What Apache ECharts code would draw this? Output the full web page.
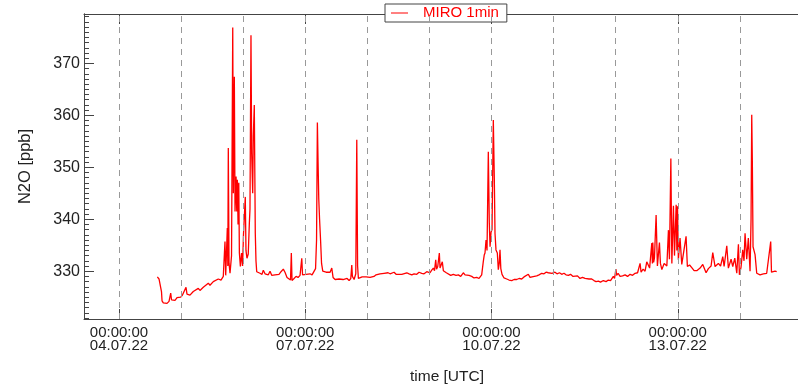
<!DOCTYPE html>
<html>
<head>
<meta charset="utf-8">
<script src="https://cdn.jsdelivr.net/npm/echarts@6/dist/echarts.min.js"></script>
<style>
  html, body { margin: 0; padding: 0; background: #fff; }
  #chart { width: 798px; height: 388px; }
</style>
</head>
<body>
<div id="chart"></div>
<script>
// time stamps (UTC, dd.mm hh:mm, year 2022)
var times = [
  '04.07 14:49', '04.07 15:05', '04.07 15:28', '04.07 16:03', '04.07 16:26', '04.07 16:38', '04.07 17:08', '04.07 17:47',
  '04.07 18:34', '04.07 19:20', '04.07 19:59', '04.07 20:18', '04.07 21:00', '04.07 21:39', '04.07 22:26', '04.07 23:12',
  '04.07 23:52', '05.07 00:32', '05.07 01:07', '05.07 01:54', '05.07 02:17', '05.07 03:26', '05.07 04:43', '05.07 05:22',
  '05.07 06:39', '05.07 07:18', '05.07 08:35', '05.07 09:14', '05.07 10:31', '05.07 11:10', '05.07 12:27', '05.07 13:07',
  '05.07 14:23', '05.07 15:26', '05.07 16:19', '05.07 16:58', '05.07 17:15', '05.07 17:52', '05.07 18:04', '05.07 18:15',
  '05.07 18:32', '05.07 18:55', '05.07 19:30', '05.07 19:58', '05.07 20:12', '05.07 20:35', '05.07 20:51', '05.07 21:15',
  '05.07 21:31', '05.07 21:45', '05.07 22:01', '05.07 22:18', '05.07 22:32', '05.07 22:55', '05.07 23:23', '05.07 23:46',
  '06.07 00:07', '06.07 00:49', '06.07 01:05', '06.07 01:28', '06.07 01:58', '06.07 02:22', '06.07 02:38', '06.07 03:01',
  '06.07 03:17', '06.07 03:41', '06.07 03:55', '06.07 04:18', '06.07 04:41', '06.07 04:57', '06.07 05:14', '06.07 05:44',
  '06.07 06:30', '06.07 07:17', '06.07 07:47', '06.07 08:27', '06.07 09:06', '06.07 09:43', '06.07 10:23', '06.07 11:02',
  '06.07 11:39', '06.07 12:19', '06.07 13:05', '06.07 13:51', '06.07 14:38', '06.07 15:31', '06.07 16:10', '06.07 16:57',
  '06.07 17:43', '06.07 18:18', '06.07 18:37', '06.07 18:53', '06.07 19:40', '06.07 20:26', '06.07 21:13', '06.07 21:59',
  '06.07 22:39', '06.07 22:57', '06.07 23:32', '07.07 00:19', '07.07 01:05', '07.07 01:51', '07.07 02:38', '07.07 03:24',
  '07.07 03:59', '07.07 04:22', '07.07 04:41', '07.07 04:57', '07.07 05:13', '07.07 05:32', '07.07 05:55', '07.07 06:18',
  '07.07 06:46', '07.07 07:16', '07.07 08:03', '07.07 08:49', '07.07 09:36', '07.07 10:15', '07.07 10:45', '07.07 11:32',
  '07.07 12:18', '07.07 13:05', '07.07 13:51', '07.07 14:38', '07.07 15:24', '07.07 16:10', '07.07 16:57', '07.07 17:36',
  '07.07 17:59', '07.07 18:13', '07.07 18:53', '07.07 19:32', '07.07 19:55', '07.07 20:14', '07.07 20:33', '07.07 21:12',
  '07.07 21:59', '07.07 22:45', '07.07 23:32', '08.07 00:16', '08.07 01:03', '08.07 01:49', '08.07 02:35', '08.07 03:22',
  '08.07 04:08', '08.07 04:55', '08.07 05:41', '08.07 06:28', '08.07 07:14', '08.07 08:00', '08.07 08:47', '08.07 09:33',
  '08.07 10:20', '08.07 11:06', '08.07 11:52', '08.07 13:19', '08.07 13:49', '08.07 15:15', '08.07 16:08', '08.07 17:11',
  '08.07 18:04', '08.07 19:06', '08.07 19:59', '08.07 21:02', '08.07 21:56', '08.07 22:58', '08.07 23:35', '09.07 00:14',
  '09.07 00:53', '09.07 01:31', '09.07 01:58', '09.07 02:26', '09.07 02:45', '09.07 03:13', '09.07 03:50', '09.07 04:06',
  '09.07 04:29', '09.07 04:59', '09.07 05:23', '09.07 05:46', '09.07 06:32', '09.07 07:18', '09.07 08:14', '09.07 09:14',
  '09.07 10:17', '09.07 11:10', '09.07 12:06', '09.07 13:06', '09.07 13:46', '09.07 14:25', '09.07 15:18', '09.07 16:21',
  '09.07 17:14', '09.07 18:17', '09.07 19:10', '09.07 20:12', '09.07 20:50', '09.07 21:11', '09.07 21:29', '09.07 21:53',
  '09.07 22:16', '09.07 22:46', '09.07 23:09', '09.07 23:26', '09.07 23:49', '10.07 00:12', '10.07 00:42', '10.07 01:05',
  '10.07 01:21', '10.07 01:44', '10.07 02:15', '10.07 02:38', '10.07 02:59', '10.07 03:17', '10.07 03:36', '10.07 04:04',
  '10.07 04:50', '10.07 05:53', '10.07 06:46', '10.07 07:49', '10.07 08:42', '10.07 09:44', '10.07 10:38', '10.07 11:40',
  '10.07 12:34', '10.07 13:20', '10.07 14:14', '10.07 14:53', '10.07 15:40', '10.07 16:33', '10.07 17:29', '10.07 18:22',
  '10.07 19:25', '10.07 20:18', '10.07 21:05', '10.07 21:58', '10.07 22:37', '10.07 23:23', '11.07 00:32', '11.07 01:19',
  '11.07 02:17', '11.07 03:08', '11.07 04:01', '11.07 04:48', '11.07 05:42', '11.07 06:33', '11.07 07:31', '11.07 08:17',
  '11.07 09:15', '11.07 10:13', '11.07 11:11', '11.07 12:09', '11.07 12:48', '11.07 13:42', '11.07 14:44', '11.07 15:37',
  '11.07 16:24', '11.07 17:18', '11.07 18:09', '11.07 19:14', '11.07 20:17', '11.07 21:10', '11.07 22:01', '11.07 23:06',
  '11.07 23:34', '12.07 00:05', '12.07 00:21', '12.07 00:56', '12.07 01:42', '12.07 02:40', '12.07 03:38', '12.07 04:36',
  '12.07 05:34', '12.07 06:32', '12.07 07:30', '12.07 08:28', '12.07 09:26', '12.07 09:49', '12.07 10:36', '12.07 11:22',
  '12.07 12:01', '12.07 12:39', '12.07 13:07', '12.07 13:58', '12.07 14:12', '12.07 14:21', '12.07 14:40', '12.07 14:59',
  '12.07 15:38', '12.07 16:08', '12.07 16:55', '12.07 17:18', '12.07 17:51', '12.07 18:44', '12.07 19:47', '12.07 20:24',
  '12.07 20:47', '12.07 21:20', '12.07 21:43', '12.07 22:20', '12.07 22:44', '12.07 23:23', '12.07 23:39', '12.07 23:54',
  '13.07 00:14', '13.07 00:53', '13.07 01:33', '13.07 02:03', '13.07 03:13', '13.07 03:43', '13.07 04:34', '13.07 05:25',
  '13.07 06:19', '13.07 07:21', '13.07 08:38', '13.07 09:40', '13.07 10:57', '13.07 11:50', '13.07 12:53', '13.07 13:32',
  '13.07 14:25', '13.07 15:42', '13.07 16:33', '13.07 17:24', '13.07 17:55', '13.07 18:57', '13.07 19:34', '13.07 20:37',
  '13.07 21:16', '13.07 22:03', '13.07 22:49', '13.07 23:27', '13.07 23:50', '14.07 00:28', '14.07 01:07', '14.07 01:37',
  '14.07 02:01', '14.07 02:40', '14.07 03:17', '14.07 03:57', '14.07 04:20', '14.07 04:36', '14.07 04:50', '14.07 05:06',
  '14.07 05:53', '14.07 06:32', '14.07 07:49', '14.07 09:05', '14.07 10:23', '14.07 11:00', '14.07 11:56', '14.07 12:14',
  '14.07 12:49', '14.07 13:36', '14.07 14:15'
];

// N2O mixing ratio [ppb]
var n2o = [
  328.9, 329.1, 328.5, 328.3, 326.0, 324.3, 323.9, 324.1,
  323.8, 324.2, 325.8, 324.5, 324.6, 324.4, 324.9, 325.1,
  325.0, 325.4, 325.2, 326.9, 325.6, 325.4, 326.1, 325.8,
  326.7, 326.3, 326.9, 326.6, 327.7, 327.3, 328.0, 327.8,
  328.5, 328.3, 329.0, 335.7, 329.2, 338.3, 331.0, 353.7,
  331.5, 329.6, 333.0, 376.9, 345.0, 367.4, 341.5, 348.2,
  341.5, 347.6, 339.0, 347.0, 333.5, 330.9, 333.5, 331.0,
  337.0, 344.3, 334.0, 332.5, 333.3, 339.0, 342.0, 375.4,
  352.7, 345.0, 356.0, 362.0, 337.3, 332.0, 329.9, 330.2,
  329.6, 329.4, 330.2, 329.5, 329.6, 329.3, 330.0, 329.2,
  329.5, 329.3, 329.6, 329.4, 329.9, 330.4, 329.8, 328.8,
  328.5, 328.3, 333.5, 328.2, 328.6, 329.0, 328.8, 329.2,
  332.5, 329.3, 329.5, 329.4, 329.6, 329.5, 329.3, 329.6,
  330.5, 336.0, 358.6, 351.0, 344.0, 340.0, 336.0, 331.5,
  330.0, 330.3, 329.8, 330.0, 329.8, 330.6, 328.8, 328.4,
  328.3, 328.5, 328.2, 328.4, 328.3, 328.6, 328.2, 328.6,
  331.2, 329.0, 328.4, 329.5, 355.3, 331.0, 328.6, 328.7,
  328.9, 328.6, 328.9, 329.0, 328.8, 329.1, 329.0, 329.3,
  329.1, 329.5, 329.3, 329.6, 329.4, 329.7, 329.5, 329.4,
  329.8, 329.4, 329.3, 329.4, 329.2, 329.7, 329.5, 329.3,
  329.5, 329.4, 329.8, 329.6, 329.5, 329.9, 329.8, 329.7,
  330.2, 330.6, 330.1, 332.2, 330.4, 330.9, 333.5, 330.6,
  330.3, 331.8, 330.1, 329.9, 329.7, 329.6, 329.2, 329.4,
  329.2, 329.3, 329.0, 329.7, 329.3, 329.1, 329.2, 329.0,
  328.7, 328.8, 328.6, 329.3, 331.9, 333.1, 333.5, 336.0,
  334.0, 353.0, 339.2, 334.7, 337.5, 338.0, 359.1, 347.9,
  337.3, 334.1, 333.5, 330.3, 331.5, 334.1, 330.5, 329.4,
  328.7, 328.5, 328.3, 328.2, 328.4, 328.4, 328.6, 328.5,
  328.9, 328.6, 329.4, 328.8, 328.9, 329.0, 329.1, 329.3,
  329.6, 329.5, 329.8, 329.7, 329.9, 329.6, 329.8, 329.5,
  329.7, 329.4, 329.6, 329.3, 329.2, 329.4, 329.0, 328.9,
  329.1, 328.6, 328.8, 328.6, 328.9, 328.5, 328.5, 328.2,
  328.0, 328.1, 327.9, 328.2, 328.0, 328.3, 328.2, 329.0,
  328.6, 330.4, 329.2, 329.6, 329.0, 329.1, 329.3, 329.0,
  329.4, 329.2, 329.6, 329.7, 331.5, 329.8, 330.4, 330.0,
  331.8, 331.5, 330.6, 335.4, 331.5, 335.5, 331.7, 332.5,
  340.8, 331.0, 335.5, 331.5, 330.3, 331.5, 331.0, 337.9,
  332.3, 351.7, 331.5, 342.6, 333.0, 342.8, 334.0, 342.5,
  332.2, 336.4, 331.3, 331.5, 336.7, 330.9, 331.2, 330.7,
  330.1, 330.1, 330.6, 331.3, 329.7, 330.5, 331.0, 333.6,
  330.9, 331.5, 331.0, 332.8, 330.9, 334.9, 330.6, 332.3,
  330.9, 332.5, 329.6, 335.2, 329.3, 330.8, 334.1, 332.0,
  337.3, 332.3, 336.4, 330.0, 340.0, 360.1, 351.1, 334.7,
  333.2, 329.6, 329.3, 329.5, 329.6, 329.6, 335.7, 329.8,
  329.6, 330.0, 329.9
];

var labelDays = ['04.07 00:00', '07.07 00:00', '10.07 00:00', '13.07 00:00'];
var gridDays = ['04.07 00:00', '05.07 00:00', '06.07 00:00', '07.07 00:00', '08.07 00:00', '09.07 00:00',
                '10.07 00:00', '11.07 00:00', '12.07 00:00', '13.07 00:00', '14.07 00:00'];
var yLabels = [330, 340, 350, 360, 370];

function toMs(s) {
    var d = parseInt(s.substr(0, 2), 10);
    var m = parseInt(s.substr(3, 2), 10);
    var hh = parseInt(s.substr(6, 2), 10);
    var mm = parseInt(s.substr(9, 2), 10);
    return Date.UTC(2022, m - 1, d, hh, mm);
}
function pad(n) { return (n < 10 ? '0' : '') + n; }

var data = [];
for (var i = 0; i < times.length; i++) {
    data.push([toMs(times[i]), n2o[i]]);
}
var labelTicks = labelDays.map(toMs);
var dayLines = gridDays.map(function (s) { return { xAxis: toMs(s) }; });

// minor ticks on y, every 1 ppb
var yMinor = [];
for (var k = 321; k <= 379; k++) {
    if (k % 10 !== 0) yMinor.push(k);
}

// visible part of the time axis (the plot runs past the right edge of the picture)
var xMin = toMs('03.07 10:28');
var xMax = toMs('14.07 22:29');
var axisColor = '#444';
var font = 'Liberation Sans, Arial, Helvetica, sans-serif';

var chart = echarts.init(document.getElementById('chart'));
var option = {
    animation: false,
    textStyle: { fontFamily: font },
    grid: { left: 84, right: 0, top: 14, bottom: 69, containLabel: false, outerBoundsMode: 'none' },
    legend: {
        data: [{ name: 'MIRO 1min', icon: 'rect' }],
        left: 385,
        top: 4,
        padding: [1, 8, 1, 6],
        backgroundColor: '#fff',
        borderColor: '#444',
        borderWidth: 1,
        borderRadius: 0,
        itemWidth: 17,
        itemHeight: 1,
        textStyle: { color: '#ff0000', fontSize: 15, fontFamily: font, padding: [0, 0, 0, 10], lineHeight: 16 }
    },
    xAxis: [{
        type: 'value',
        min: xMin,
        max: xMax,
        position: 'bottom',
        name: 'time [UTC]',
        nameLocation: 'middle',
        nameGap: 50,
        nameTextStyle: { fontSize: 15.5, color: '#222', fontFamily: font, padding: [0, 0, 0, 12] },
        axisLine: { lineStyle: { color: axisColor, width: 1 } },
        axisTick: { inside: true, length: 10, customValues: labelTicks, lineStyle: { color: axisColor } },
        axisLabel: {
            customValues: labelTicks,
            margin: 8,
            fontSize: 15,
            lineHeight: 12.5,
            color: '#222',
            fontFamily: font,
            formatter: function (v) {
                var d = new Date(v);
                return pad(d.getUTCHours()) + ':' + pad(d.getUTCMinutes()) + ':00\n' +
                    pad(d.getUTCDate()) + '.' + pad(d.getUTCMonth() + 1) + '.22';
            }
        },
        splitLine: { show: false }
    }, {
        type: 'value',
        min: xMin,
        max: xMax,
        position: 'top',
        axisLine: { lineStyle: { color: axisColor, width: 1 } },
        axisTick: { inside: true, length: 10, customValues: labelTicks, lineStyle: { color: axisColor } },
        axisLabel: { show: false },
        splitLine: { show: false }
    }],
    yAxis: [{
        type: 'value',
        min: 320.8,
        max: 379.5,
        minInterval: 10,
        maxInterval: 10,
        position: 'left',
        name: 'N2O [ppb]',
        nameLocation: 'middle',
        nameGap: 50,
        nameTextStyle: { fontSize: 16.5, color: '#222', fontFamily: font },
        axisLine: { lineStyle: { color: axisColor, width: 1 } },
        axisTick: { inside: true, length: 10, customValues: yLabels, lineStyle: { color: axisColor } },
        axisLabel: { customValues: yLabels, margin: 4, fontSize: 16, color: '#222', fontFamily: font },
        splitLine: { show: false }
    }, {
        type: 'value',
        min: 320.8,
        max: 379.5,
        position: 'left',
        axisLine: { show: true, lineStyle: { color: axisColor, width: 1 } },
        axisTick: { inside: true, length: 5, customValues: yMinor, lineStyle: { color: axisColor } },
        axisLabel: { show: false },
        splitLine: { show: false }
    }],
    series: [{
        name: 'grid',
        type: 'line',
        data: [],
        z: 1,
        silent: true,
        markLine: {
            silent: true,
            symbol: 'none',
            label: { show: false },
            lineStyle: { color: '#999', type: [6, 5], width: 1 },
            data: dayLines
        }
    }, {
        name: 'MIRO 1min',
        type: 'line',
        data: data,
        z: 3,
        symbol: 'none',
        lineStyle: { color: '#ff0000', width: 1.3 },
        itemStyle: { color: '#ff0000' }
    }]
};
chart.setOption(option);
</script>
</body>
</html>
